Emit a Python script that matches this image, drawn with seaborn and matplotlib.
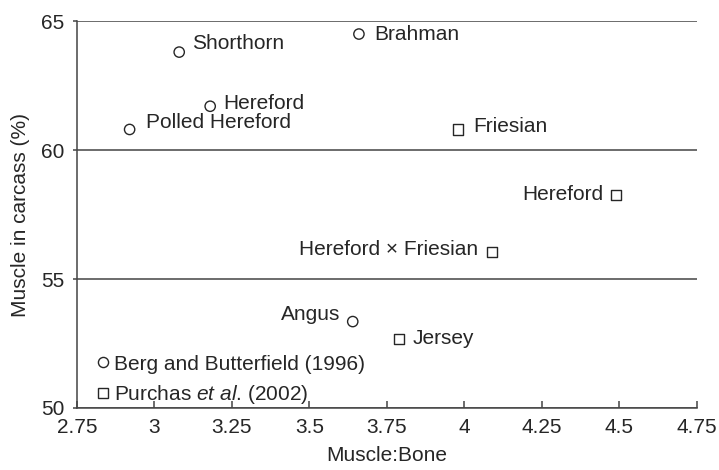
import matplotlib
matplotlib.use("Agg")
import matplotlib.pyplot as plt
from matplotlib.lines import Line2D
import seaborn as sns
import pandas as pd

# Breeds, their muscle:bone ratios and carcass muscle percentages
breeds = ["Shorthorn", "Hereford", "Polled Hereford", "Brahman", "Angus",
          "Friesian", "Hereford", "Hereford \u00d7 Friesian", "Jersey"]
muscle_bone = [3.08, 3.18, 2.92, 3.66, 3.64, 3.98, 4.49, 4.09, 3.79]
muscle_pct = [63.8, 61.7, 60.8, 64.5, 53.35, 60.8, 58.27, 56.06, 52.68]
sources = ["Berg and Butterfield (1996)"] * 5 + ["Purchas et al. (2002)"] * 4

source_labels = ["Berg and Butterfield (1996)", r"Purchas $\it{et\ al}$. (2002)"]
source_markers = {"Berg and Butterfield (1996)": "o", "Purchas et al. (2002)": "s"}

x_ticks = [2.75, 3, 3.25, 3.5, 3.75, 4, 4.25, 4.5, 4.75]
x_tick_labels = ["2.75", "3", "3.25", "3.5", "3.75", "4", "4.25", "4.5", "4.75"]
y_ticks = [50, 55, 60, 65]

# label placement: pixel offsets from each point and horizontal alignment
label_dx = [13, 13, 16, 15, -12, 15, -13, -14, 13]
label_dy = [9, 3, 7, 0, 7, 3, 0, 2, 0]
label_ha = ["left", "left", "left", "left", "right", "left", "right", "right", "left"]

sns.set_theme(style="white")
plt.rcParams["font.family"] = ["Liberation Sans", "DejaVu Sans"]
plt.rcParams["mathtext.fontset"] = "custom"
plt.rcParams["mathtext.rm"] = "Liberation Sans"
plt.rcParams["mathtext.it"] = "Liberation Sans:italic"

df = pd.DataFrame({"breed": breeds, "mb": muscle_bone, "pct": muscle_pct, "src": sources})

ink = "#262626"
line_col = "#444444"

fig = plt.figure(figsize=(7.19, 4.70), dpi=100)
ax = fig.add_axes([0.107, 0.132, 0.862, 0.823])

sns.scatterplot(data=df, x="mb", y="pct", style="src", markers=source_markers,
                s=55, facecolor="white", edgecolor=ink, linewidth=1.0,
                legend=False, ax=ax, zorder=3, clip_on=False)

for name, x, y, dx, dy, ha in zip(breeds, muscle_bone, muscle_pct, label_dx, label_dy, label_ha):
    ax.annotate(name, (x, y), xytext=(dx, dy), textcoords="offset pixels",
                ha=ha, va="center", fontsize=15, color=ink)

ax.set_xlim(2.75, 4.75)
ax.set_ylim(50, 65)
ax.set_xticks(x_ticks)
ax.set_xticklabels(x_tick_labels)
ax.set_yticks(y_ticks)
ax.set_xlabel("Muscle:Bone", fontsize=15, color=ink, labelpad=7)
ax.set_ylabel("Muscle in carcass (%)", fontsize=15, color=ink, labelpad=8)

ax.yaxis.grid(True, color=line_col, linewidth=1.1)
ax.set_axisbelow(True)
for side in ["top", "right"]:
    ax.spines[side].set_visible(False)
for side in ["left", "bottom"]:
    ax.spines[side].set_color(line_col)
    ax.spines[side].set_linewidth(1.1)

ax.tick_params(axis="x", direction="in", length=5, width=1.1, color=line_col,
               labelsize=15, labelcolor=ink, pad=7, top=False, bottom=True)
ax.tick_params(axis="y", direction="out", length=3, width=1.1, color=line_col,
               labelsize=15, labelcolor=ink, pad=6, left=True)

handles = [Line2D([], [], linestyle="none", marker=source_markers[s], markersize=7.3,
                  markerfacecolor="white", markeredgecolor=ink, markeredgewidth=1.0)
           for s in source_markers]
ax.legend(handles, source_labels, loc="lower left", bbox_to_anchor=(0.028, 0.005),
          frameon=False, fontsize=15, handlelength=0.8, handletextpad=0.15,
          labelspacing=0.45, borderpad=0, borderaxespad=0, labelcolor=ink)

fig.savefig("out.png", dpi=100)
